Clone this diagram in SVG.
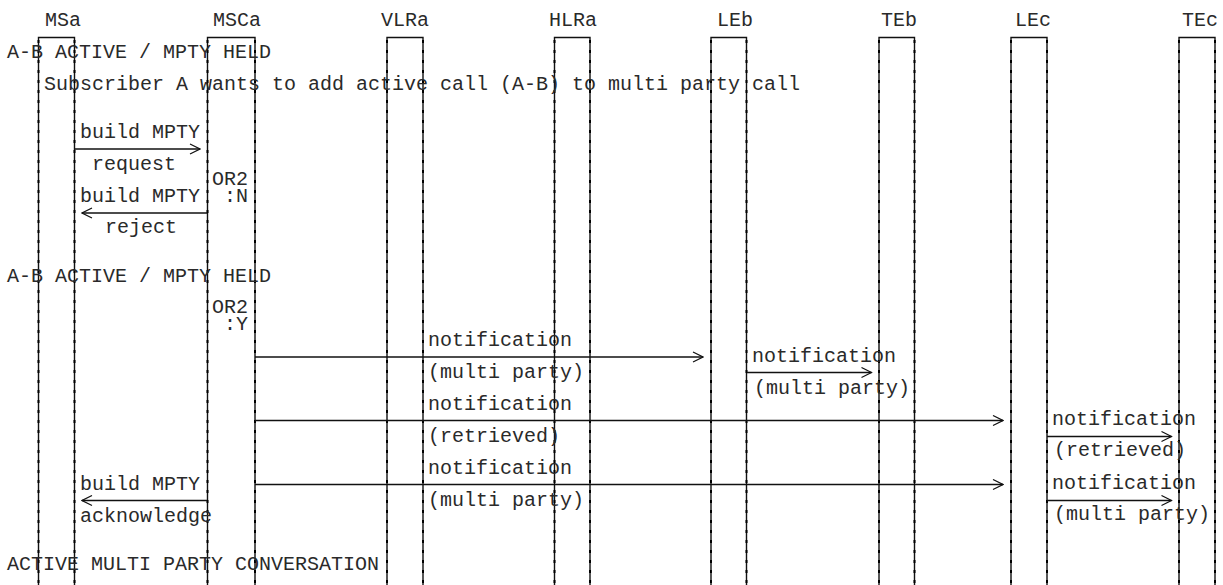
<svg xmlns="http://www.w3.org/2000/svg" width="1223" height="585" viewBox="0 0 1223 585">
<style>
text{font-family:"Liberation Mono","Courier New",monospace;font-size:20px;fill:#2a2a2a}
.ll{fill:none;stroke:#111;stroke-width:1.4}
.lld{fill:none;stroke:#000;stroke-width:2;stroke-dasharray:3 7}
.msg{fill:none;stroke:#111;stroke-width:1.3}
</style>
<defs>
<marker id="ah" markerWidth="12" markerHeight="12" refX="0" refY="0" viewBox="-11 -6 12 12" markerUnits="userSpaceOnUse" orient="auto">
<path d="M-10,-5 L0,0 L-10,5" fill="none" stroke="#111" stroke-width="1.2"/>
</marker>
</defs>
<rect width="1223" height="585" fill="#fff"/>
<g id="MSa"><path class="ll" d="M38.5,585 V37.5 H74.5 V585"/><path class="lld" d="M38.5,40 V585 M74.5,40 V585"/><text x="45" y="26">MSa</text></g>
<g id="MSCa"><path class="ll" d="M207.5,585 V37.5 H255 V585"/><path class="lld" d="M207.5,40 V585 M255,40 V585"/><text x="213" y="26">MSCa</text></g>
<g id="VLRa"><path class="ll" d="M387,585 V37.5 H423 V585"/><path class="lld" d="M387,40 V585 M423,40 V585"/><text x="381" y="26">VLRa</text></g>
<g id="HLRa"><path class="ll" d="M554.5,585 V37.5 H590 V585"/><path class="lld" d="M554.5,40 V585 M590,40 V585"/><text x="549" y="26">HLRa</text></g>
<g id="LEb"><path class="ll" d="M711,585 V37.5 H746.5 V585"/><path class="lld" d="M711,40 V585 M746.5,40 V585"/><text x="717" y="26">LEb</text></g>
<g id="TEb"><path class="ll" d="M879,585 V37.5 H914.5 V585"/><path class="lld" d="M879,40 V585 M914.5,40 V585"/><text x="881" y="26">TEb</text></g>
<g id="LEc"><path class="ll" d="M1011,585 V37.5 H1047 V585"/><path class="lld" d="M1011,40 V585 M1047,40 V585"/><text x="1015" y="26">LEc</text></g>
<g id="TEc"><path class="ll" d="M1179,585 V37.5 H1215 V585"/><path class="lld" d="M1179,40 V585 M1215,40 V585"/><text x="1182" y="26">TEc</text></g>
<g id="connectors">
<line class="msg" x1="75" y1="149" x2="200" y2="149" marker-end="url(#ah)"/>
<line class="msg" x1="207" y1="213" x2="82" y2="213" marker-end="url(#ah)"/>
<line class="msg" x1="255" y1="357" x2="703" y2="357" marker-end="url(#ah)"/>
<line class="msg" x1="747" y1="372.5" x2="871.5" y2="372.5" marker-end="url(#ah)"/>
<line class="msg" x1="255" y1="420.5" x2="1003" y2="420.5" marker-end="url(#ah)"/>
<line class="msg" x1="1047" y1="436.5" x2="1171.5" y2="436.5" marker-end="url(#ah)"/>
<line class="msg" x1="255" y1="484.5" x2="1003" y2="484.5" marker-end="url(#ah)"/>
<line class="msg" x1="1047" y1="500.5" x2="1171.5" y2="500.5" marker-end="url(#ah)"/>
<line class="msg" x1="207" y1="500.5" x2="82" y2="500.5" marker-end="url(#ah)"/>
</g>
<g id="labels">
<text x="7" y="58">A-B ACTIVE / MPTY HELD</text>
<text x="44" y="90">Subscriber A wants to add active call (A-B) to multi party call</text>
<text x="80" y="138">build MPTY</text>
<text x="92" y="170">request</text>
<text x="212" y="185">OR2</text>
<text x="224" y="202">:N</text>
<text x="80" y="202">build MPTY</text>
<text x="105" y="233">reject</text>
<text x="7" y="281.5">A-B ACTIVE / MPTY HELD</text>
<text x="212" y="313">OR2</text>
<text x="224" y="330">:Y</text>
<text x="428" y="346">notification</text>
<text x="428" y="378">(multi party)</text>
<text x="752" y="361.5">notification</text>
<text x="754" y="394">(multi party)</text>
<text x="428" y="410">notification</text>
<text x="428" y="441.5">(retrieved)</text>
<text x="1052" y="425">notification</text>
<text x="1054" y="456">(retrieved)</text>
<text x="428" y="474">notification</text>
<text x="428" y="506">(multi party)</text>
<text x="1052" y="489">notification</text>
<text x="1054" y="520">(multi party)</text>
<text x="80" y="490">build MPTY</text>
<text x="80" y="521.5">acknowledge</text>
<text x="7" y="570">ACTIVE MULTI PARTY CONVERSATION</text>
</g>
</svg>
